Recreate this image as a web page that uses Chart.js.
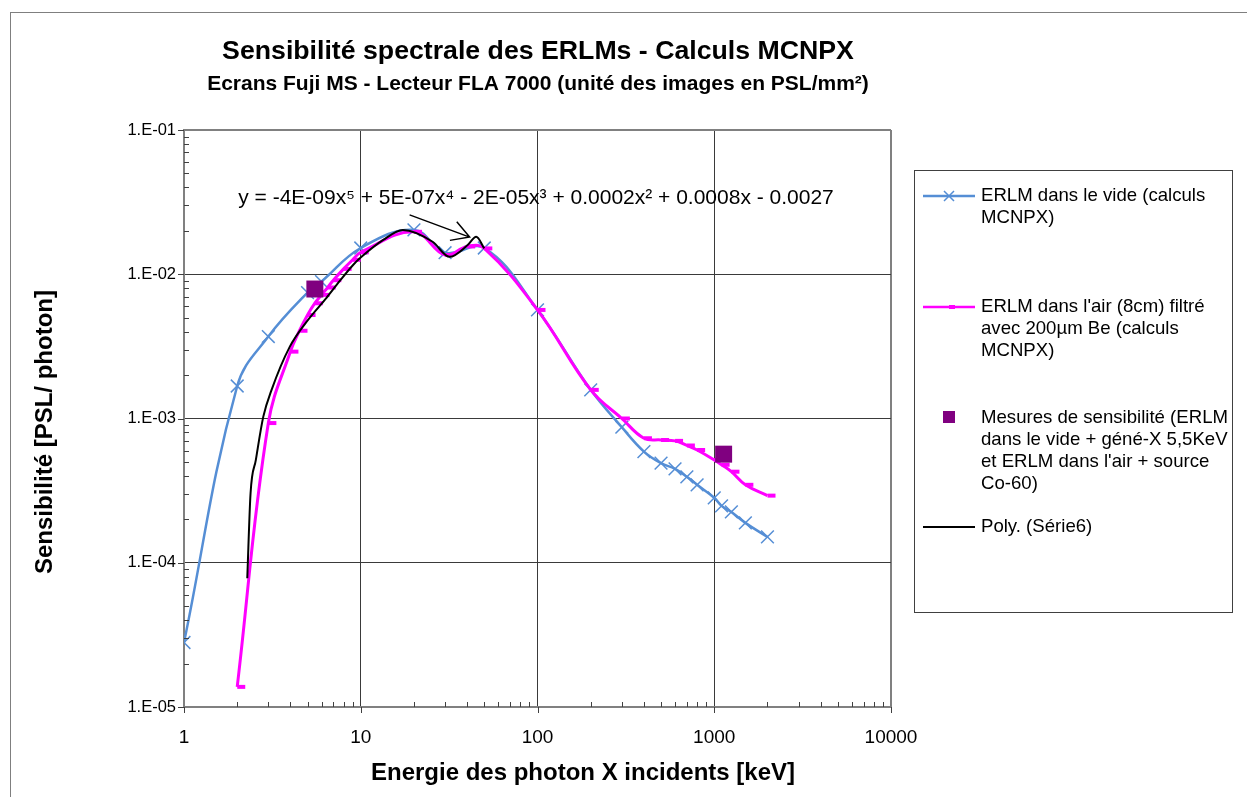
<!DOCTYPE html>
<html lang="fr">
<head>
<meta charset="utf-8"/>
<script src="https://cdn.jsdelivr.net/npm/chart.js"></script>
<style>
  html, body { margin: 0; padding: 0; background: #fff; }
  #wrap { position: relative; width: 1247px; height: 797px; overflow: hidden; }
</style>
</head>
<body>
<div id="wrap"><canvas id="myChart" width="1247" height="797"></canvas></div>

<script>
  // ERLM dans le vide (calculs MCNPX)
  var videE = [1, 2, 3, 5, 6, 10, 20, 30, 50, 100, 200, 300, 400, 500, 600, 700, 800, 1000, 1100, 1250, 1500, 2000];
  var videS = [2.8e-5, 1.68e-3, 3.7e-3, 7.46e-3, 8.9e-3, 1.52e-2, 2.03e-2, 1.41e-2, 1.52e-2, 5.66e-3, 1.58e-3, 8.7e-4,
               5.9e-4, 4.9e-4, 4.47e-4, 3.94e-4, 3.47e-4, 2.82e-4, 2.48e-4, 2.25e-4, 1.89e-4, 1.51e-4];

  // ERLM dans l'air (8cm) filtré avec 200µm Be
  var airE = [2, 3, 4, 4.5, 5, 5.5, 6, 6.5, 7, 8, 9, 10, 20, 30, 40, 50, 100, 200, 300, 400, 500, 600, 700, 800, 1000, 1100, 1250, 1500, 2000];
  var airS = [1.38e-5, 9.3e-4, 2.91e-3, 4.06e-3, 5.22e-3, 6.3e-3, 7.2e-3, 8.1e-3, 9.1e-3, 1.09e-2, 1.26e-2, 1.42e-2,
              1.97e-2, 1.36e-2, 1.56e-2, 1.51e-2, 5.66e-3, 1.58e-3, 1.0e-3, 7.3e-4, 7.1e-4, 7.0e-4, 6.5e-4, 6.05e-4,
              5.16e-4, 4.78e-4, 4.28e-4, 3.47e-4, 2.92e-4];

  // Mesures de sensibilité
  var mesE = [5.5, 1130];
  var mesS = [7.9e-3, 5.66e-4];

  // Poly. (Série6) - courbe de tendance
  var polyE = [2.28, 2.38, 2.55, 2.81, 3.13, 3.97, 4.93, 6.4, 7.61, 9.05, 10.1, 13.4, 17.3, 25.5, 31.8, 40.4, 45, 50];
  var polyS = [7.8e-5, 3.03e-4, 5.16e-4, 1.03e-3, 1.58e-3, 3.15e-3, 4.67e-3, 6.86e-3, 8.99e-3, 1.16e-2, 1.32e-2,
               1.73e-2, 2.03e-2, 1.68e-2, 1.32e-2, 1.6e-2, 1.82e-2, 1.51e-2];

  var xTickValues = [1, 10, 100, 1000, 10000];
  var xTickLabels = ["1", "10", "100", "1000", "10000"];
  var yTickValues = [1e-5, 1e-4, 1e-3, 1e-2, 1e-1];
  var yTickLabels = ["1.E-05", "1.E-04", "1.E-03", "1.E-02", "1.E-01"];

  var titre = "Sensibilité spectrale des ERLMs - Calculs MCNPX";
  var sousTitre = "Ecrans Fuji MS - Lecteur FLA 7000 (unité des images en PSL/mm²)";
  var titreX = "Energie des photon X incidents [keV]";
  var titreY = "Sensibilité [PSL/ photon]";
  var equation = "y = -4E-09x\u2075 + 5E-07x\u2074 - 2E-05x\u00B3 + 0.0002x\u00B2 + 0.0008x - 0.0027";
  var flecheDe = [18.9, 2.58e-2];
  var flecheA = [41.3, 1.81e-2];

  var legende = [
    { lignes: ["ERLM dans le vide (calculs", "MCNPX)"], type: "vide", y: 196 },
    { lignes: ["ERLM dans l'air (8cm) filtré", "avec 200µm Be (calculs", "MCNPX)"], type: "air", y: 307 },
    { lignes: ["Mesures de sensibilité (ERLM", "dans le vide + géné-X 5,5KeV", "et ERLM dans l'air + source", "Co-60)"], type: "mes", y: 418 },
    { lignes: ["Poly. (Série6)"], type: "poly", y: 527 }
  ];

  var FONT = "'Liberation Sans', Arial, sans-serif";
  var BLEU = "#558ED5";
  var ROSE = "#FF00FF";
  var VIOLET = "#800080";

  function pts(xs, ys) {
    return xs.map(function (v, i) { return { x: v, y: ys[i] }; });
  }

  // marqueur "tiret" de la série air (décalé à droite comme dans Excel)
  var tiret = document.createElement("canvas");
  tiret.width = 20; tiret.height = 6;
  var tc = tiret.getContext("2d");
  tc.fillStyle = ROSE;
  tc.fillRect(10, 1, 8, 4);

  var decor = {
    id: "decor",
    beforeDraw: function (chart) {
      var ctx = chart.ctx;
      ctx.save();
      ctx.fillStyle = "#fff";
      ctx.fillRect(0, 0, chart.width, chart.height);
      ctx.strokeStyle = "#7f7f7f";
      ctx.lineWidth = 1;
      ctx.strokeRect(10.5, 12.5, 1400, 1000);
      ctx.restore();
    },
    afterDraw: function (chart) {
      var ctx = chart.ctx, sx = chart.scales.x, sy = chart.scales.y, a = chart.chartArea;
      ctx.save();

      // graduations secondaires (vers l'intérieur) et principales (vers l'extérieur)
      ctx.strokeStyle = "#404040";
      ctx.lineWidth = 1;
      var d, k, p;
      for (d = 1; d < 10000; d *= 10) {
        for (k = 2; k <= 9; k++) {
          p = Math.round(sx.getPixelForValue(k * d)) + 0.5;
          ctx.beginPath(); ctx.moveTo(p, a.bottom); ctx.lineTo(p, a.bottom - 5); ctx.stroke();
        }
      }
      for (d = 1e-5; d < 0.09; d *= 10) {
        for (k = 2; k <= 9; k++) {
          p = Math.round(sy.getPixelForValue(k * d)) + 0.5;
          ctx.beginPath(); ctx.moveTo(a.left, p); ctx.lineTo(a.left + 5, p); ctx.stroke();
        }
      }
      xTickValues.forEach(function (v) {
        var q = Math.round(sx.getPixelForValue(v)) + 0.5;
        ctx.beginPath(); ctx.moveTo(q, a.bottom); ctx.lineTo(q, a.bottom + 6); ctx.stroke();
      });
      yTickValues.forEach(function (v) {
        var q = Math.round(sy.getPixelForValue(v)) + 0.5;
        ctx.beginPath(); ctx.moveTo(a.left - 6, q); ctx.lineTo(a.left, q); ctx.stroke();
      });

      // titres
      ctx.fillStyle = "#000";
      ctx.textAlign = "center";
      ctx.textBaseline = "middle";
      ctx.font = "bold 26.7px " + FONT;
      ctx.fillText(titre, 538, 52);
      ctx.font = "bold 21px " + FONT;
      ctx.fillText(sousTitre, 538, 84);
      ctx.font = "bold 24px " + FONT;
      ctx.fillText(titreX, 583, 773);
      ctx.save();
      ctx.translate(45, 432);
      ctx.rotate(-Math.PI / 2);
      ctx.fillText(titreY, 0, 0);
      ctx.restore();

      // équation de la courbe de tendance
      ctx.font = "21px " + FONT;
      ctx.fillText(equation, 536, 198);

      // flèche
      var x0 = sx.getPixelForValue(flecheDe[0]), y0 = sy.getPixelForValue(flecheDe[1]);
      var x1 = sx.getPixelForValue(flecheA[0]), y1 = sy.getPixelForValue(flecheA[1]);
      var ang = Math.atan2(y1 - y0, x1 - x0);
      ctx.strokeStyle = "#000";
      ctx.lineWidth = 1.5;
      ctx.beginPath();
      ctx.moveTo(x0, y0); ctx.lineTo(x1, y1);
      ctx.moveTo(x1 - 20 * Math.cos(ang - 0.52), y1 - 20 * Math.sin(ang - 0.52));
      ctx.lineTo(x1, y1);
      ctx.lineTo(x1 - 20 * Math.cos(ang + 0.52), y1 - 20 * Math.sin(ang + 0.52));
      ctx.stroke();

      // légende
      ctx.lineWidth = 1;
      ctx.strokeStyle = "#404040";
      ctx.strokeRect(914.5, 170.5, 318, 442);
      ctx.textAlign = "left";
      ctx.font = "18.6px " + FONT;
      legende.forEach(function (e) {
        if (e.type === "vide" || e.type === "air" || e.type === "poly") {
          ctx.strokeStyle = e.type === "vide" ? BLEU : e.type === "air" ? ROSE : "#000";
          ctx.lineWidth = e.type === "poly" ? 2 : 2.5;
          ctx.beginPath(); ctx.moveTo(923, e.y); ctx.lineTo(975, e.y); ctx.stroke();
        }
        if (e.type === "vide") {
          ctx.lineWidth = 1.5;
          ctx.beginPath();
          ctx.moveTo(944, e.y - 5); ctx.lineTo(954, e.y + 5);
          ctx.moveTo(944, e.y + 5); ctx.lineTo(954, e.y - 5);
          ctx.stroke();
        }
        if (e.type === "air") {
          ctx.fillStyle = ROSE;
          ctx.fillRect(949, e.y - 2, 6, 4);
        }
        if (e.type === "mes") {
          ctx.fillStyle = VIOLET;
          ctx.fillRect(943, e.y - 7, 12, 12);
        }
        ctx.fillStyle = "#000";
        e.lignes.forEach(function (t, i) {
          ctx.fillText(t, 981, e.y + i * 22);
        });
      });
      ctx.restore();
    }
  };

  function bordure(ctx, max) {
    return ctx.tick && ctx.tick.value === max;
  }

  var ctx = document.getElementById("myChart");
  var myChart = new Chart(ctx, {
    type: "line",
    data: {
      datasets: [
        {
          label: "Mesures de sensibilité",
          data: pts(mesE, mesS),
          showLine: false,
          pointStyle: "rect",
          pointRadius: 12,
          backgroundColor: VIOLET,
          borderColor: VIOLET,
          borderWidth: 0,
          order: 0
        },
        {
          label: "Poly. (Série6)",
          data: pts(polyE, polyS),
          borderColor: "#000",
          borderWidth: 2,
          pointRadius: 0,
          cubicInterpolationMode: "monotone",
          order: 1
        },
        {
          label: "ERLM dans l'air (8cm) filtré avec 200µm Be (calculs MCNPX)",
          data: pts(airE, airS),
          borderColor: ROSE,
          backgroundColor: ROSE,
          borderWidth: 3,
          tension: 0.4,
          pointStyle: tiret,
          pointRadius: 4,
          order: 2
        },
        {
          label: "ERLM dans le vide (calculs MCNPX)",
          data: pts(videE, videS),
          borderColor: BLEU,
          backgroundColor: BLEU,
          borderWidth: 2.5,
          tension: 0.4,
          pointStyle: "crossRot",
          pointRadius: 9,
          pointBorderWidth: 1.5,
          order: 3
        }
      ]
    },
    options: {
      responsive: false,
      animation: false,
      devicePixelRatio: 1,
      events: [],
      layout: { padding: { left: 0, top: 130, right: 356, bottom: 0 } },
      plugins: {
        legend: { display: false },
        title: { display: false },
        tooltip: { enabled: false }
      },
      scales: {
        x: {
          type: "logarithmic",
          min: 1,
          max: 10000,
          afterFit: function (s) { s.height = 90; },
          afterBuildTicks: function (s) {
            s.ticks = xTickValues.map(function (v) { return { value: v }; });
          },
          ticks: {
            autoSkip: false,
            maxRotation: 0,
            padding: 19,
            color: "#000",
            font: { family: FONT, size: 19 },
            callback: function (v) { return xTickLabels[xTickValues.indexOf(v)]; }
          },
          grid: {
            drawTicks: false,
            color: function (c) { return bordure(c, 10000) ? "#808080" : "#3a3a3a"; },
            lineWidth: function (c) { return bordure(c, 10000) ? 2 : 1; }
          },
          border: { color: "#808080", width: 2 }
        },
        y: {
          type: "logarithmic",
          min: 1e-5,
          max: 1e-1,
          afterFit: function (s) { s.width = 184; },
          afterBuildTicks: function (s) {
            s.ticks = yTickValues.map(function (v) { return { value: v }; });
          },
          ticks: {
            autoSkip: false,
            padding: 8,
            color: "#000",
            font: { family: FONT, size: 16.5 },
            callback: function (v) { return yTickLabels[yTickValues.indexOf(v)]; }
          },
          grid: {
            drawTicks: false,
            color: function (c) { return bordure(c, 1e-1) ? "#808080" : "#3a3a3a"; },
            lineWidth: function (c) { return bordure(c, 1e-1) ? 2 : 1; }
          },
          border: { color: "#808080", width: 2 }
        }
      }
    },
    plugins: [decor]
  });
</script>
</body>
</html>
